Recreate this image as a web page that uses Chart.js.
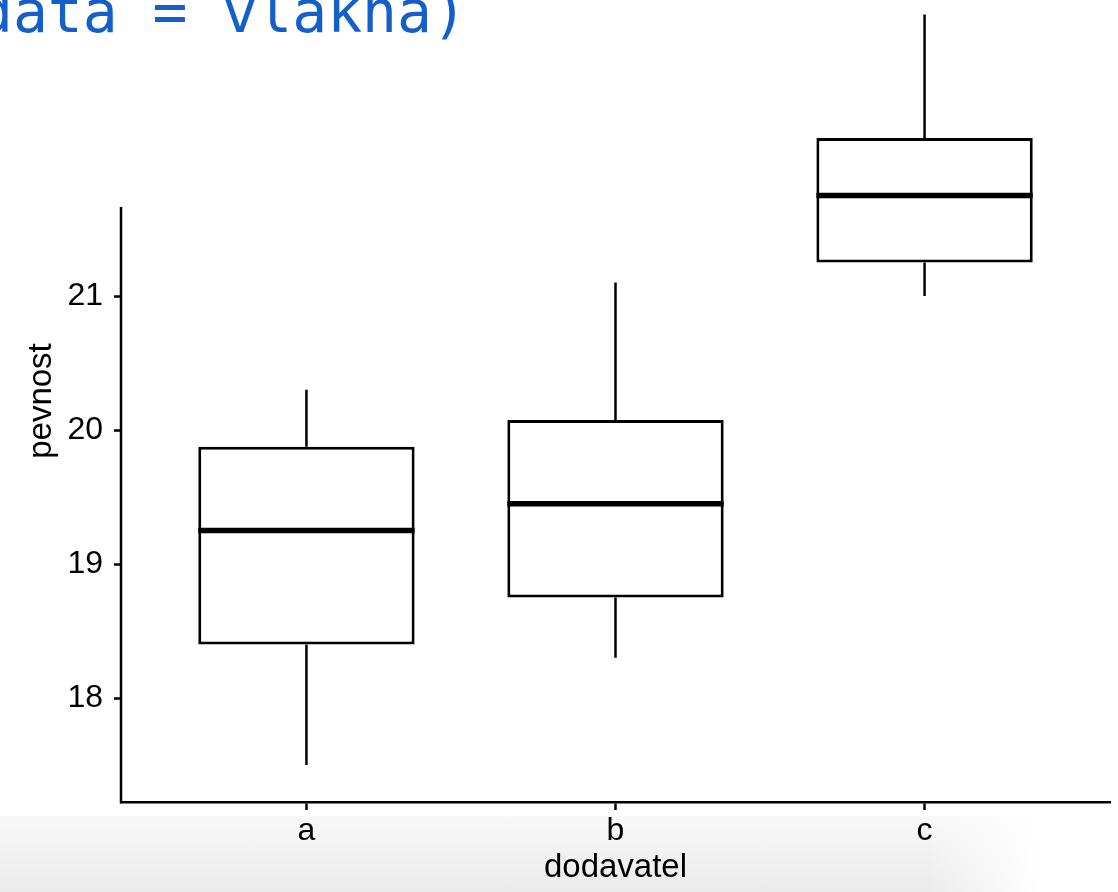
<!DOCTYPE html>
<html>
<head>
<meta charset="utf-8">
<script src="https://cdn.jsdelivr.net/npm/chart.js@4.4.1/dist/chart.umd.min.js"></script>
<style>
  html, body { margin: 0; padding: 0; background: #fff; overflow: hidden; }
  #wrap { position: relative; width: 1118px; height: 892px; overflow: hidden; }
  #floor {
    position: absolute; left: 0; top: 816px; width: 1118px; height: 76px;
    background: linear-gradient(to bottom, #f8f8f8, #ebebeb);
    -webkit-mask-image: linear-gradient(to right, #000 83%, transparent 93%);
    mask-image: linear-gradient(to right, #000 83%, transparent 93%);
  }
  #code {
    position: absolute; left: -22px; top: -17px;
    font: 58px "DejaVu Sans Mono", monospace; line-height: 58px;
    color: #1560c8; white-space: pre;
  }
  canvas { position: absolute; left: 0; top: 0; }
</style>
</head>
<body>
<div id="wrap">
  <div id="floor"></div>
  <div id="code">data = vlakna)</div>
  <canvas id="chart" width="1118" height="892"></canvas>
</div>
<script>
const groups = ['a', 'b', 'c'];
const lowerWhisker = [17.5, 18.3, 21.0];
const q1 = [18.4, 18.75, 21.25];
const median = [19.25, 19.45, 21.75];
const q3 = [19.875, 20.075, 22.18];
const upperWhisker = [20.3, 21.1, 23.1];
const yTicks = [18, 19, 20, 21];

const yMin = 17.224;
const yMax = 23.209;
const yAxisLineFrom = 21.664;   // the visible y axis line stops here
const halfBox = 0.35;

const tickFont = { family: '"Liberation Sans", Arial, sans-serif', size: 32 };
const titleFont = { family: '"Liberation Sans", Arial, sans-serif', size: 33 };

// whisker segments: lower and upper, separated by gaps
const whiskerPts = [];
groups.forEach((g, i) => {
    whiskerPts.push({ x: i + 1, y: lowerWhisker[i] }, { x: i + 1, y: q1[i] }, { x: i + 1, y: null });
    whiskerPts.push({ x: i + 1, y: q3[i] }, { x: i + 1, y: upperWhisker[i] }, { x: i + 1, y: null });
});

const medianPts = [];
groups.forEach((g, i) => {
    medianPts.push({ x: i + 1 - halfBox, y: median[i] }, { x: i + 1 + halfBox, y: median[i] }, { x: i + 1, y: null });
});

// y axis line drawn only from yAxisLineFrom down to the x axis
const yAxisLine = {
    id: 'yAxisLine',
    afterDraw(chart) {
        const { ctx, chartArea, scales } = chart;
        ctx.save();
        ctx.strokeStyle = '#000';
        ctx.lineWidth = 2.5;
        ctx.beginPath();
        ctx.moveTo(chartArea.left, scales.y.getPixelForValue(yAxisLineFrom));
        ctx.lineTo(chartArea.left, chartArea.bottom + 1.25);
        ctx.stroke();
        ctx.restore();
    }
};

const ctx = document.getElementById('chart').getContext('2d');
new Chart(ctx, {
    type: 'bar',
    data: {
        datasets: [
            {
                type: 'bar',
                data: groups.map((g, i) => ({ x: i + 1, y: [q1[i], q3[i]] })),
                backgroundColor: '#fff',
                borderColor: '#000',
                borderWidth: 3,
                borderSkipped: false,
                barPercentage: 2 * halfBox,
                categoryPercentage: 1,
                order: 2,
                clip: false
            },
            {
                type: 'line',
                data: whiskerPts,
                borderColor: '#000',
                borderWidth: 2.5,
                pointRadius: 0,
                spanGaps: false,
                order: 3,
                clip: false
            },
            {
                type: 'line',
                data: medianPts,
                borderColor: '#000',
                borderWidth: 5.5,
                borderCapStyle: 'butt',
                pointRadius: 0,
                spanGaps: false,
                order: 1,
                clip: false
            }
        ]
    },
    options: {
        responsive: false,
        animation: false,
        devicePixelRatio: 1,
        layout: { padding: { top: 0, right: 8, bottom: 0, left: 0 } },
        plugins: {
            legend: { display: false },
            tooltip: { enabled: false }
        },
        scales: {
            x: {
                type: 'linear',
                min: 0.4,
                max: 3.6,
                offset: false,
                afterBuildTicks: s => { s.ticks = groups.map((g, i) => ({ value: i + 1 })); },
                afterFit: s => { s.height = 90; s.paddingLeft = 0; s.paddingRight = 0; },
                ticks: {
                    callback: v => groups[v - 1],
                    font: tickFont,
                    color: '#000',
                    padding: 2,
                    maxRotation: 0
                },
                grid: {
                    display: true,
                    offset: false,
                    drawOnChartArea: false,
                    drawTicks: true,
                    tickLength: 8,
                    tickColor: '#000',
                    tickWidth: 2.5
                },
                border: { display: true, color: '#000', width: 2.5 },
                title: {
                    display: true,
                    text: 'dodavatel',
                    font: titleFont,
                    color: '#000',
                    padding: { top: 0, bottom: 4 }
                }
            },
            y: {
                type: 'linear',
                min: yMin,
                max: yMax,
                afterBuildTicks: s => { s.ticks = yTicks.map(v => ({ value: v })); },
                afterFit: s => { s.width = 121; s.paddingTop = 0; s.paddingBottom = 0; },
                ticks: {
                    font: tickFont,
                    color: '#000',
                    padding: 11
                },
                grid: {
                    display: true,
                    offset: false,
                    drawOnChartArea: false,
                    drawTicks: true,
                    tickLength: 7,
                    tickColor: '#000',
                    tickWidth: 2.5
                },
                border: { display: false },
                title: {
                    display: true,
                    text: 'pevnost',
                    font: titleFont,
                    color: '#000',
                    padding: { top: 22, bottom: 0 }
                }
            }
        }
    },
    plugins: [yAxisLine]
});
</script>
</body>
</html>
